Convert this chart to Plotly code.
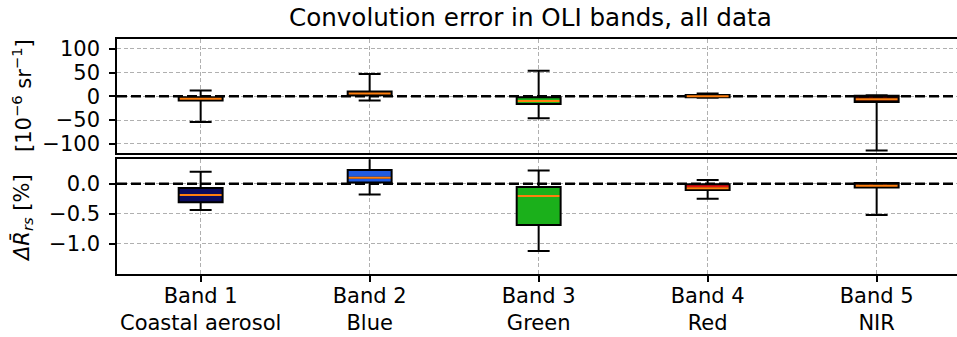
import plotly.graph_objects as go

# ---------------- data ----------------
band_labels = ["Band 1<br>Coastal aerosol", "Band 2<br>Blue", "Band 3<br>Green",
               "Band 4<br>Red", "Band 5<br>NIR"]
positions = [1, 2, 3, 4, 5]
colors = ["#0b0b5e", "#1f5be0", "#1bb01b", "#e81010", "#3a0000"]

# top panel: absolute error [1e-6 sr^-1]
abs_low = [-54, -9, -46, -3, -114]
abs_q1 = [-9, 2, -16, -2, -12]
abs_med = [-5, 6, -10, 0, -6]
abs_q3 = [-2, 10, -2, 3, 1]
abs_high = [12, 47, 54, 6, 2]

# bottom panel: relative error [%]
rel_low = [-0.44, -0.18, -1.12, -0.25, -0.52]
rel_q1 = [-0.31, 0.02, -0.69, -0.105, -0.065]
rel_med = [-0.19, 0.10, -0.205, -0.077, -0.035]
rel_q3 = [-0.07, 0.23, -0.055, -0.01, 0.01]
rel_high = [0.20, 0.45, 0.22, 0.06, 0.01]

top_ticks = [-100, -50, 0, 50, 100]
top_ticktext = ["\u2212100", "\u221250", "0", "50", "100"]
bot_ticks = [-1.0, -0.5, 0.0]
bot_ticktext = ["\u22121.0", "\u22120.5", "0.0"]

# ---------------- figure ----------------
W, H = 957, 337
FONT = "DejaVu Sans"
FS = 21
BOXW = 0.26

x0 = 117 / W
xrange = [0.505, 0.505 + (W - 117) / 169.0]
top_dom = [1 - 153.3 / H, 1 - 39.3 / H]
bot_dom = [1 - 274 / H, 1 - 159.3 / H]

fig = go.Figure()

def add_panel(xa, ya, low, q1, med, q3, high):
    # dashed zero reference line (beneath the boxes)
    fig.add_trace(go.Scatter(
        x=xrange, y=[0, 0], mode="lines",
        line=dict(color="black", width=2.5, dash="10px,4px"),
        showlegend=False, hoverinfo="skip", xaxis=xa, yaxis=ya))
    for i, p in enumerate(positions):
        fig.add_trace(go.Box(
            x=[p], q1=[q1[i]], median=[med[i]], q3=[q3[i]],
            lowerfence=[low[i]], upperfence=[high[i]],
            width=BOXW, whiskerwidth=0.5,
            fillcolor=colors[i], line=dict(color="black", width=2),
            boxpoints=False, showlegend=False, hoverinfo="skip",
            xaxis=xa, yaxis=ya))
        fig.add_trace(go.Scatter(
            x=[p - BOXW / 2 + 0.006, p + BOXW / 2 - 0.006], y=[med[i], med[i]],
            mode="lines", line=dict(color="#ff7f0e", width=2),
            showlegend=False, hoverinfo="skip", xaxis=xa, yaxis=ya))

add_panel("x", "y", abs_low, abs_q1, abs_med, abs_q3, abs_high)
add_panel("x2", "y2", rel_low, rel_q1, rel_med, rel_q3, rel_high)

grid = dict(showgrid=True, gridcolor="#b0b0b0", gridwidth=1, griddash="4px,2.5px")

fig.update_layout(
    width=W, height=H,
    margin=dict(l=0, r=0, t=0, b=0),
    paper_bgcolor="white", plot_bgcolor="white",
    font=dict(family=FONT, size=FS, color="black"),
    boxmode="overlay",
    xaxis=dict(domain=[x0, 1], range=xrange, anchor="y", tickvals=positions,
               showticklabels=False, ticks="", showline=True, mirror=True,
               linecolor="black", linewidth=1.5, zeroline=False, automargin=False, **grid),
    yaxis=dict(domain=top_dom, range=[-120, 120], anchor="x", tickvals=top_ticks,
               ticktext=top_ticktext, ticks="outside", ticklen=6, tickwidth=1.5,
               tickcolor="black", showline=True, mirror=False, linecolor="black",
               linewidth=1.5, zeroline=False, automargin=False, ticklabelstandoff=5,
               tickfont=dict(size=FS), **grid),
    xaxis2=dict(domain=[x0, 1], range=xrange, anchor="y2", tickvals=positions,
                ticktext=band_labels, ticks="outside", ticklen=6, tickwidth=1.5,
                tickcolor="black", showline=True, mirror=True, linecolor="black",
                linewidth=1.5, zeroline=False, automargin=False, ticklabelstandoff=-4,
                tickfont=dict(size=FS), **grid),
    yaxis2=dict(domain=bot_dom, range=[-1.505, 0.407], anchor="x2", tickvals=bot_ticks,
                ticktext=bot_ticktext, ticks="outside", ticklen=6, tickwidth=1.5,
                tickcolor="black", showline=True, mirror=False, linecolor="black",
                linewidth=1.5, zeroline=False, automargin=False, ticklabelstandoff=5,
                tickfont=dict(size=FS), **grid),
)

fig.add_annotation(text="Convolution error in OLI bands, all data",
                   xref="paper", yref="paper", x=530 / W, y=1 - 18 / H,
                   xanchor="center", yanchor="middle", showarrow=False,
                   font=dict(size=24.6, family=FONT, color="black"))
fig.add_annotation(text="[10<sup>\u22126</sup> sr<sup>\u22121</sup>]",
                   xref="paper", yref="paper", x=22 / W, y=1 - 96 / H,
                   xanchor="center", yanchor="middle", textangle=-90, showarrow=False,
                   font=dict(size=FS, family=FONT, color="black"))
fig.add_annotation(text="<i>\u0394R\u0304</i><sub><i>rs</i></sub> [%]",
                   xref="paper", yref="paper", x=22 / W, y=1 - 218 / H,
                   xanchor="center", yanchor="middle", textangle=-90, showarrow=False,
                   font=dict(size=FS, family=FONT, color="black"))

fig.write_html("out.html")
